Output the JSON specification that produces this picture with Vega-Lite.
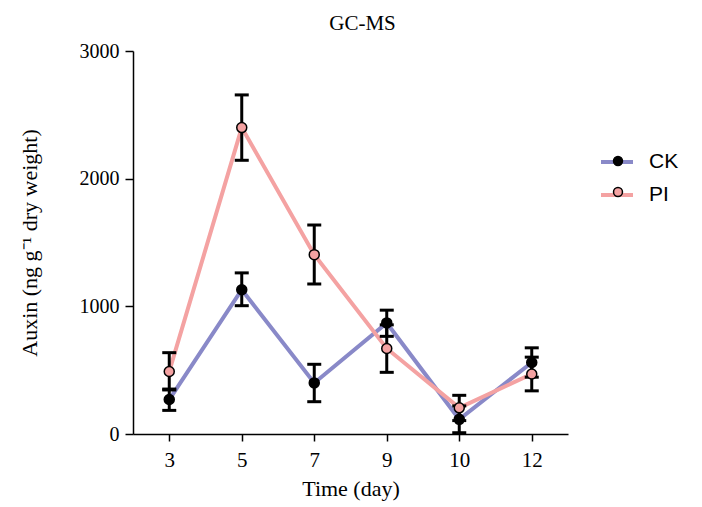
{
  "$schema": "https://vega.github.io/schema/vega-lite/v6.json",
  "autosize": {"type": "none"},
  "padding": {"left": 133, "top": 51, "right": 134, "bottom": 73},
  "width": 435,
  "height": 383,
  "background": "white",
  "title": {
    "text": "GC-MS",
    "font": "Liberation Serif",
    "fontSize": 21,
    "fontWeight": "normal",
    "color": "black",
    "offset": 7,
    "dx": 12
  },
  "config": {
    "view": {"stroke": null},
    "axis": {
      "domainColor": "black",
      "domainWidth": 1.5,
      "tickColor": "black",
      "tickWidth": 1.5,
      "labelColor": "black",
      "labelFont": "Liberation Serif",
      "titleFont": "Liberation Serif",
      "titleColor": "black",
      "titleFontWeight": "normal",
      "grid": false
    }
  },
  "data": {
    "values": [
      {"day": 3, "group": "CK", "mean": 270, "lo": 185, "hi": 352},
      {"day": 5, "group": "CK", "mean": 1130, "lo": 1005, "hi": 1262},
      {"day": 7, "group": "CK", "mean": 400, "lo": 253, "hi": 546},
      {"day": 9, "group": "CK", "mean": 870, "lo": 765, "hi": 970},
      {"day": 10, "group": "CK", "mean": 115, "lo": 10, "hi": 220},
      {"day": 12, "group": "CK", "mean": 560, "lo": 445, "hi": 675},
      {"day": 3, "group": "PI", "mean": 490, "lo": 345, "hi": 637},
      {"day": 5, "group": "PI", "mean": 2400, "lo": 2144, "hi": 2656},
      {"day": 7, "group": "PI", "mean": 1405, "lo": 1175, "hi": 1637},
      {"day": 9, "group": "PI", "mean": 670, "lo": 483, "hi": 855},
      {"day": 10, "group": "PI", "mean": 205, "lo": 105, "hi": 303},
      {"day": 12, "group": "PI", "mean": 470, "lo": 338, "hi": 602}
    ]
  },
  "encoding": {
    "x": {
      "field": "day",
      "type": "ordinal",
      "scale": {"type": "point", "padding": 0.5},
      "axis": {
        "title": "Time (day)",
        "labelAngle": 0,
        "labelFontSize": 21,
        "titleFontSize": 22,
        "titleFontWeight": "normal",
        "tickSize": 7,
        "labelPadding": 8,
        "titlePadding": 8
      }
    }
  },
  "layer": [
    {
      "mark": {"type": "line", "strokeWidth": 4},
      "encoding": {
        "y": {
          "field": "mean",
          "type": "quantitative",
          "scale": {"domain": [0, 3000], "nice": false},
          "axis": {
            "title": "Auxin (ng g⁻¹ dry weight)",
            "format": "d",
            "values": [0, 1000, 2000, 3000],
            "labelFontSize": 20,
            "titleFontSize": 22,
            "titleFontWeight": "normal",
            "tickSize": 8,
            "labelPadding": 6,
            "titlePadding": 38
          }
        },
        "stroke": {
          "field": "group",
          "type": "nominal",
          "scale": {"domain": ["CK", "PI"], "range": ["#8989c8", "#f4a2a2"]},
          "legend": {
            "orient": "none",
            "legendX": 466,
            "legendY": 93,
            "title": null,
            "symbolType": "stroke",
            "symbolSize": 1024,
            "symbolStrokeWidth": 4,
            "labelFont": "Liberation Sans",
            "labelFontSize": 21,
            "labelColor": "black",
            "labelOffset": 14,
            "rowPadding": 5,
            "padding": 0
          }
        }
      }
    },
    {
      "mark": {"type": "rule", "color": "black", "strokeWidth": 3, "opacity": 1},
      "encoding": {
        "y": {"field": "lo", "type": "quantitative"},
        "y2": {"field": "hi"}
      }
    },
    {
      "mark": {"type": "tick", "color": "black", "size": 14, "thickness": 3, "opacity": 1},
      "encoding": {
        "y": {"field": "lo", "type": "quantitative"}
      }
    },
    {
      "mark": {"type": "tick", "color": "black", "size": 14, "thickness": 3, "opacity": 1},
      "encoding": {
        "y": {"field": "hi", "type": "quantitative"}
      }
    },
    {
      "mark": {"type": "point", "filled": true, "size": 100, "stroke": "black", "strokeWidth": 1.5, "opacity": 1},
      "encoding": {
        "y": {"field": "mean", "type": "quantitative"},
        "fill": {
          "field": "group",
          "type": "nominal",
          "scale": {"range": ["black", "#f4a2a2"]},
          "legend": {
            "orient": "none",
            "legendX": 475,
            "legendY": 100,
            "title": null,
            "symbolType": "circle",
            "symbolSize": 80,
            "symbolStrokeColor": "black",
            "symbolStrokeWidth": 1.5,
            "labelFontSize": 20,
            "labelExpr": "''",
            "rowPadding": 11,
            "padding": 0
          }
        }
      }
    }
  ]
}
